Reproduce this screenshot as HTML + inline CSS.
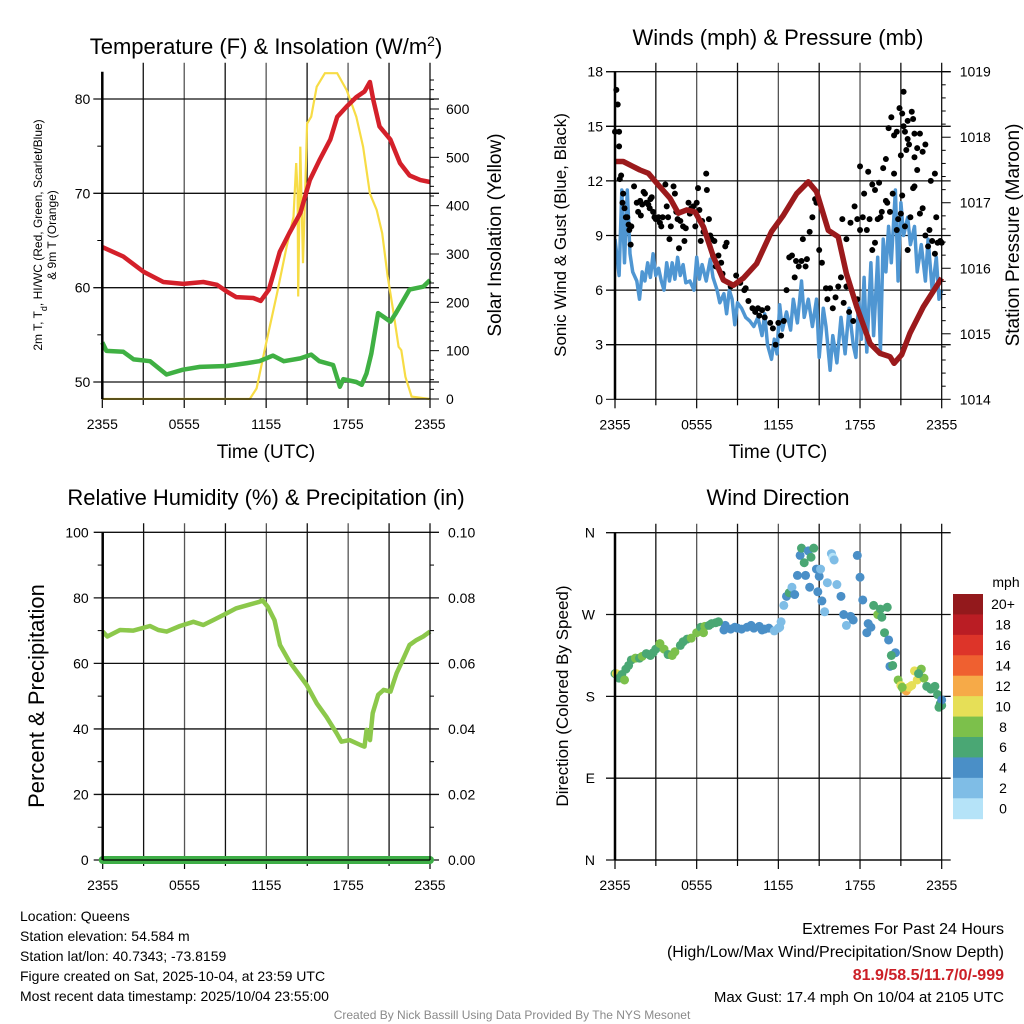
<!DOCTYPE html>
<html><head><meta charset="utf-8">
<style>
html,body{margin:0;padding:0;background:#fff;}
svg{display:block;font-family:"Liberation Sans",Arial,sans-serif;}
</style></head>
<body>
<svg id="root" width="1024" height="1024" viewBox="0 0 1024 1024"></svg>
<script>
// ---------- DATA ----------
const tempHours=[0,1.54,3.0,4.47,5.93,7.4,8.4,9.1,9.8,11.06,11.6,12.2,13.0,13.7,14.5,15.2,15.9,16.7,17.2,17.9,18.6,19.2,19.6,19.85,20.3,21.1,21.8,22.5,23.3,24];
const tempVals=[64.3,63.3,61.7,60.6,60.4,60.6,60.3,59.6,59.0,58.9,58.6,59.8,63.8,65.8,67.9,71.4,73.5,75.7,78.1,79.2,80.2,80.8,81.8,79.9,77.1,75.7,73.2,71.9,71.4,71.2];
const dewHours=[0,0.3,1.54,2.3,3.5,4.7,5.9,7.15,9.1,10.6,11.5,12.5,13.3,14.5,15.3,15.9,16.9,17.4,17.65,18.6,19.0,19.35,19.7,20.2,20.6,21.1,21.5,22.5,23.5,24];
const dewVals=[54.2,53.3,53.2,52.4,52.2,50.8,51.3,51.6,51.7,52.0,52.2,52.8,52.2,52.5,52.9,52.2,51.8,49.5,50.3,50.0,49.7,50.9,53.0,57.3,56.9,56.4,57.3,59.8,60.1,60.8];
const solarHours=[0,10.8,11.3,12.0,12.8,13.5,14.0,14.2,14.3,14.35,14.5,14.7,14.85,15.0,15.3,15.7,16.3,17.2,17.9,18.6,19.1,19.6,20.1,20.5,20.9,21.3,21.7,21.9,22.2,22.65,24];
const solarVals=[0,0,22,115,219,315,377,488,425,212,522,281,425,570,584,646,674,674,639,584,522,425,391,343,253,184,108,101,46,5,0];
const presHours=[0,0.6,1.35,1.84,2.45,3.06,4.04,4.65,5.27,5.88,6.5,7.22,7.96,8.7,9.43,10.4,11.5,12.37,13.35,14.2,14.8,15.67,16.4,17.0,17.76,18.74,19.47,20.2,20.5,21.06,21.67,22.65,24];
const presVals=[1017.63,1017.63,1017.55,1017.5,1017.45,1017.3,1017.07,1016.84,1016.89,1016.86,1016.63,1016.18,1015.82,1015.74,1015.85,1016.07,1016.56,1016.81,1017.14,1017.32,1017.17,1016.58,1016.48,1015.92,1015.41,1014.85,1014.70,1014.65,1014.55,1014.68,1015.01,1015.41,1015.85];
const windHours=[0,0.3,0.5,0.7,0.9,1.1,1.3,1.6,1.8,2.0,2.2,2.4,2.6,2.8,3.0,3.2,3.4,3.6,3.8,4.0,4.2,4.4,4.6,4.8,5.0,5.2,5.5,5.8,6.0,6.2,6.4,6.7,7.0,7.2,7.5,7.7,8.0,8.2,8.4,8.6,8.8,9.0,9.3,9.6,9.9,10.2,10.5,10.8,11.0,11.2,11.5,11.7,11.9,12.1,12.3,12.6,12.9,13.1,13.4,13.7,13.9,14.2,14.5,14.8,15.0,15.3,15.5,15.8,16.0,16.3,16.6,16.9,17.2,17.5,17.7,17.9,18.1,18.3,18.5,18.8,19.0,19.3,19.5,19.7,19.9,20.1,20.3,20.6,20.8,21.0,21.2,21.5,21.7,22.0,22.2,22.5,22.8,23.0,23.3,23.6,23.8,24];
const windVals=[8.8,6.8,11.5,7.5,11.5,8,7,6.5,5.5,7,6.5,7.5,6.7,8,6.8,7.2,6.5,6,7.5,6.5,7.5,6.6,7.8,6.8,7.4,6.4,6.5,6.0,7.8,6.6,7.4,6.5,7.7,6.7,6.0,5.3,5.8,4.7,6.0,5.5,4.1,5.3,5.0,4.5,4.3,4.0,4.5,3.5,4.7,3.0,2.2,3.3,2.5,5.2,3.8,4.8,3.8,5.5,4.2,6.5,4.5,5.5,4.0,5.5,2.3,5.0,4.0,1.6,3.5,2.0,4.5,2.5,5.0,3.0,2.3,5.5,3.3,6.7,2.6,7.5,3.5,7.8,2.6,8.8,7.0,9.5,7.5,11.5,6.5,10.8,9.0,10.0,8.5,9.5,7.0,8.5,6.5,8.8,6.0,7.8,5.5,6.0];
const gustHours=[0,0.1,0.2,0.3,0.3,0.35,0.45,0.55,0.6,0.7,0.8,0.9,1.0,1.05,1.15,1.2,1.4,1.6,1.7,1.85,1.9,2.0,2.1,2.2,2.3,2.45,2.55,2.6,2.7,2.8,2.9,3.0,3.2,3.3,3.4,3.5,3.7,3.8,3.9,4.0,4.1,4.3,4.4,4.5,4.6,4.7,4.8,5.0,5.1,5.2,5.4,5.5,5.6,5.75,5.9,6.0,6.1,6.2,6.3,6.4,6.5,6.7,6.75,6.9,7.0,7.1,7.2,7.3,7.4,7.6,7.8,7.9,8.1,8.2,8.5,8.9,9.2,9.5,9.6,9.8,10.1,10.3,10.5,10.6,10.8,11.0,11.2,11.4,11.6,11.8,12.0,12.2,12.4,12.6,12.8,13.0,13.2,13.3,13.5,13.7,13.8,14.0,14.1,14.3,14.5,14.7,14.8,15.0,15.2,15.5,15.6,15.8,16.0,16.2,16.4,16.6,16.8,17.0,17.2,17.5,17.8,18.0,18.2,18.5,18.7,18.9,19.1,19.3,19.5,19.7,19.9,20.0,20.2,20.4,20.5,20.7,20.8,21.0,21.1,21.3,21.5,21.7,21.9,22.0,22.2,22.4,22.6,22.8,23.0,23.1,23.3,23.5,23.7,23.9,24,20.1,20.3,20.5,20.7,20.9,21.1,21.0,21.2,21.4,21.5,21.6,21.8,21.9,22.0,22.2,22.4,22.6,22.8,21.2,21.5,21.3,22.0,23.2,23.5,23.6,16.7,17.0,17.3,17.6,17.8,18.0,18.3,18.6,18.9,19.1,19.4,19.6,19.9];
const gustVals=[14.7,17,16.2,14.7,13.9,12.1,12.3,10.8,11.3,10.5,10,10,9.6,9.3,8.5,9.5,11.7,10.8,10.3,10.9,10.1,10.7,11.4,11.3,10.8,10.7,10.5,11,11.1,10.3,10.0,9.9,10.0,9.7,9.5,10.0,11.8,10.6,10.0,8.8,9.5,11.7,11.3,10.3,9.9,8.3,9.8,9.5,8.7,9.4,10.8,10.2,10.5,10.6,9.5,10.8,11.6,10.4,8.7,9.8,9.2,12.4,11.5,9.9,9.0,8.8,7.9,8.7,7.3,7.9,7.5,6.9,8.4,8.6,6.2,6.8,6.4,6.0,6.1,5.4,5.0,4.8,5.0,4.6,4.9,4.5,5.0,4.2,3.9,3.0,4.2,3.5,4.3,6.0,7.8,7.9,6.7,7.6,7.3,7.6,8.8,7.3,7.7,9.2,10.0,11.0,10.8,8.2,7.5,6.1,5.5,6.1,5.0,5.6,6.2,6.7,5.3,6.2,4.8,4.3,5.5,9.3,10.0,9.3,9.9,8.2,8.6,9.9,10.0,12.7,13.2,10.8,10.3,11.3,12.4,9.3,9.9,10.2,11.2,9.5,8.2,10.0,11.6,11.7,12.6,10.2,10.5,9.0,8.4,9.3,8.7,8.0,8.6,8.7,8.6,14.9,15.5,14.5,14.7,16.0,15.7,13.4,15.0,13.7,14.3,14.0,15.8,15.4,14.6,13.8,14.6,13.6,14.0,16.9,15.3,14.7,13.3,12.0,12.4,10.0,9.9,8.8,9.7,10.6,9.9,12.8,11.3,12.5,11.8,11.5,11.9,10.3,10.9];
const rhHours=[0,0.34,1.27,2.25,3.47,4.08,4.69,5.67,6.65,7.38,8.1,9.1,9.8,10.8,11.5,11.7,12.1,12.6,13.0,13.7,14.96,15.7,16.4,17.15,17.5,18.1,18.9,19.2,19.35,19.6,19.8,20.2,20.6,21.1,21.55,22.0,22.5,23.0,23.5,24];
const rhVals=[69.7,68.2,70.2,70.0,71.4,70.2,69.7,71.4,72.7,71.7,73.2,75.3,76.8,78.0,78.8,79.3,77.3,73.2,65.6,60.5,53.4,47.8,43.7,38.7,36.1,36.6,35.1,34.6,39.7,36.6,44.8,50.4,51.9,51.4,57.0,61.0,65.6,67.1,68.2,69.7];
const precipHours=[0,6,12,18,24];
const precipVals=[0,0,0,0,0];
const dirHours=[0,0.1,0.2,0.3,0.5,0.7,0.8,1.2,1.5,1.8,2.0,2.3,2.6,3.0,3.3,3.6,3.9,4.2,4.4,5.0,5.3,5.6,6.0,6.3,6.6,6.9,7.1,7.4,8.0,8.1,8.5,8.8,9.3,9.7,10.2,10.6,10.8,11.3,11.7,12.0,12.2,12.4,12.6,12.8,13.0,13.2,13.4,13.6,13.7,13.9,14.0,14.2,14.4,14.6,14.8,14.9,15.0,15.2,15.4,15.6,15.9,16.0,16.3,16.6,16.8,17.0,17.3,17.5,17.8,18.0,18.2,18.5,18.8,19.0,19.3,19.6,19.8,20.0,20.1,20.2,20.4,20.6,20.3,20.8,21.0,21.2,21.4,21.6,21.8,22.0,22.2,22.5,22.7,22.9,23.2,23.5,23.7,23.9,24,24,23.8,1.0,2.8,4.8,6.5,7.6,9.0,10.0,11.0,12.1,14.3,15.1,16.1,18.6,19.5,21.1,22.3];
const dirVals=[205,205,204,200,204,198,210,220,222,222,224,227,225,232,238,232,226,225,229,240,243,244,250,256,257,258,260,261,253,258,254,256,254,256,255,257,253,255,252,255,262,280,290,294,300,292,313,335,343,327,313,340,333,343,320,295,312,285,273,305,337,333,303,290,270,258,268,264,335,311,286,250,256,280,270,267,250,278,242,213,214,228,225,198,192,188,186,190,192,208,198,210,200,191,188,191,182,172,170,176,168,214,228,236,250,262,255,258,254,256,300,320,330,260,276,190,205];
const dirSpeeds=[7,10,10,7,7,9,7,7,9,7,9,7,7,7,9,9,7,9,9,7,7,9,9,7,9,7,7,7,5,5,5,5,5,5,5,5,5,5,3,3,3,3,5,7,3,5,5,5,7,7,5,5,7,7,5,5,5,5,3,3,3,1,3,5,5,3,5,5,5,5,5,5,5,7,9,7,7,7,5,5,7,5,7,9,11,9,13,11,11,11,11,9,9,7,7,7,7,7,7,5,7,7,7,7,9,7,5,5,5,3,5,3,3,5,7,9,7];
const binLabels=["20+","18","16","14","12","10","8","6","4","2","0"];
const binColors=["#b5e3f8","#7fbde6","#4a8fc7","#4aa774","#7cc04b","#e6df57","#f6aa48","#ef6030","#dd3429","#ba1d24","#93191c"];
const timeLabels=["2355","0555","1155","1755","2355"];
const tempTicks=[50,60,70,80];
const solarTicks=[0,100,200,300,400,500,600];
const windTicks=[0,3,6,9,12,15,18];
const presTicks=[1014,1015,1016,1017,1018,1019];
const rhTicks=[0,20,40,60,80,100];
const precipTicks=["0.00","0.02","0.04","0.06","0.08","0.10"];
const dirTicks=[0,90,180,270,360];
const dirTickLabels=["N","E","S","W","N"];

// ---------- HELPERS ----------
const NS="http://www.w3.org/2000/svg";
const root=document.getElementById('root');
function mk(tag,attrs,name,parent){
  const el=document.createElementNS(NS,tag);
  for(const k in attrs)el.setAttribute(k,attrs[k]);
  
  
  (parent||root).appendChild(el);return el;
}
function txt(x,y,s,size,name,opts){
  opts=opts||{};
  const a={x:x,y:y,'font-size':size,fill:opts.fill||'#000','text-anchor':opts.anchor||'start'};
  if(opts.weight)a['font-weight']=opts.weight;
  if(opts.rot!==undefined)a.transform='rotate('+opts.rot+' '+x+' '+y+')';
  const t=mk('text',a,name,opts.parent);t.textContent=s;return t;
}
function lin(d0,d1,r0,r1){return v=>r0+(v-d0)/(d1-d0)*(r1-r0);}
function pathFrom(xs,ys,fx,fy){return xs.map((h,i)=>(i?'L':'M')+fx(h).toFixed(1)+' '+fy(ys[i]).toFixed(1)).join(' ');}
function clipRect(id,x,y,w,h,g){
  const cp=mk('clipPath',{id:id},'clip-path',g);
  mk('rect',{x:x,y:y,width:w,height:h},'clip-rect',cp);
}

function frame(P,name){
  const g=mk('g',{},name);
  for(let k=1;k<8;k++){const x=P.fx(k*3);
    mk('line',{x1:x,x2:x,y1:P.y0-9,y2:P.y1,stroke:k%2?'#111':'#555','stroke-width':1.3},'grid-line-v',g);}
  for(let k=0;k<=8;k++){const x=P.fx(k*3);
    mk('line',{x1:x,x2:x,y1:P.y1,y2:P.y1+(k%2?6:9),stroke:'#000','stroke-width':1.2},'x-tick',g);}
  timeLabels.forEach((s,i)=>txt(P.fx(i*6),P.y1+30,s,14,'x-tick-label',{anchor:'middle',parent:g}));
  return g;
}
function hgrid(P,g,y,len){
  mk('line',{x1:P.x0-9,x2:P.x1+(len||9),y1:y,y2:y,stroke:'#111','stroke-width':1.3},'grid-line-h',g);
}
function border(P,g){
  mk('line',{x1:P.x0,x2:P.x0,y1:P.y0,y2:P.y1,stroke:'#000','stroke-width':2.5},'y-axis-left',g);
  mk('line',{x1:P.x1,x2:P.x1,y1:P.y0-9,y2:P.y1,stroke:'#000','stroke-width':1.2},'y-axis-right',g);
  mk('line',{x1:P.x0,x2:P.x1,y1:P.y1,y2:P.y1,stroke:'#000','stroke-width':1.2},'x-axis',g);
}

// ---------- PANEL 1: Temperature ----------
{
const P={x0:102.3,x1:430,y0:71.7,y1:399};
P.fx=lin(0,24,P.x0,P.x1);
const fy=lin(50,80,382,99), fs=lin(0,600,399,109);
const g=frame(P,'temperature-panel');
tempTicks.forEach(v=>{hgrid(P,g,fy(v));txt(P.x0-12,fy(v)+5,String(v),14,'temp-tick-label',{anchor:'end',parent:g});});
[55,65,75].forEach(v=>mk('line',{x1:P.x0-5,x2:P.x0,y1:fy(v),y2:fy(v),stroke:'#000'},'temp-minor-tick',g));
for(let v=0;v<=660;v+=20){const y=fs(v);if(y<P.y0)break;mk('line',{x1:P.x1,x2:P.x1+(v%100?4:9),y1:y,y2:y,stroke:'#000','stroke-width':1},'solar-tick',g);}
solarTicks.forEach(v=>txt(P.x1+16,fs(v)+5,String(v),14,'solar-tick-label',{parent:g}));
clipRect('c1',P.x0,P.y0-1,P.x1-P.x0,P.y1-P.y0+2,g);
mk('path',{d:pathFrom(solarHours,solarVals,P.fx,fs),fill:'none',stroke:'#f7dc45','stroke-width':2.2,'clip-path':'url(#c1)'},'solar-insolation-line',g);
mk('path',{d:pathFrom(tempHours,tempVals,P.fx,fy),fill:'none',stroke:'#d4202a','stroke-width':4.5,'stroke-linejoin':'round'},'temperature-line',g);
mk('path',{d:pathFrom(dewHours,dewVals,P.fx,fy),fill:'none',stroke:'#3fb043','stroke-width':4.5,'stroke-linejoin':'round'},'dewpoint-line',g);
border(P,g);
const t=txt(266,54,'Temperature (F) & Insolation (W/m',22,'temperature-title',{anchor:'middle',parent:g});
const sp=document.createElementNS(NS,'tspan');sp.setAttribute('baseline-shift','super');sp.setAttribute('font-size','14');sp.textContent='2';t.appendChild(sp);
const sp2=document.createElementNS(NS,'tspan');sp2.textContent=')';t.appendChild(sp2);
txt(266,458,'Time (UTC)',19,'x-axis-title',{anchor:'middle',parent:g});
const yl=txt(42,235,'2m T, T',12,'temp-y-axis-title',{anchor:'middle',rot:-90,parent:g});
const sub=document.createElementNS(NS,'tspan');sub.setAttribute('baseline-shift','sub');sub.setAttribute('font-size','9');sub.textContent='d';yl.appendChild(sub);
const rest=document.createElementNS(NS,'tspan');rest.textContent=', HI/WC (Red, Green, Scarlet/Blue)';yl.appendChild(rest);
txt(56,235,'& 9m T (Orange)',12,'temp-y-axis-title-2',{anchor:'middle',rot:-90,parent:g});
txt(501,235,'Solar Insolation (Yellow)',19,'solar-y-axis-title',{anchor:'middle',rot:-90,parent:g});
}

// ---------- PANEL 2: Winds ----------
{
const P={x0:615,x1:941.7,y0:71.7,y1:399.3};
P.fx=lin(0,24,P.x0,P.x1);
const fy=lin(0,18,P.y1,P.y0), fp=lin(1014,1019,P.y1,P.y0);
const g=frame(P,'winds-panel');
windTicks.forEach(v=>{if(v>0&&v<18)hgrid(P,g,fy(v));mk('line',{x1:P.x0-9,x2:P.x0,y1:fy(v),y2:fy(v),stroke:'#000'},'wind-tick',g);txt(P.x0-12,fy(v)+5,String(v),14,'wind-tick-label',{anchor:'end',parent:g});});
mk('line',{x1:P.x0-9,x2:P.x1+9,y1:P.y0,y2:P.y0,stroke:'#111','stroke-width':1.3},'top-line',g);
for(let v=1014;v<=1019.001;v+=0.2){const y=fp(v);mk('line',{x1:P.x1,x2:P.x1+(Math.abs(v-Math.round(v))<0.01?9:4),y1:y,y2:y,stroke:'#000'},'pressure-tick',g);}
presTicks.forEach(v=>txt(P.x1+18,fp(v)+5,String(v),14,'pressure-tick-label',{parent:g}));
clipRect('c2',P.x0,P.y0,P.x1-P.x0+3,P.y1-P.y0,g);
mk('path',{d:pathFrom(windHours,windVals,P.fx,fy),fill:'none',stroke:'#4f96d2','stroke-width':3.5,'stroke-linejoin':'round','clip-path':'url(#c2)'},'sonic-wind-line',g);
gustHours.forEach((h,i)=>{
  mk('circle',{cx:P.fx(h),cy:fy(gustVals[i]),r:3,fill:'#000'},'gust-point',g);
});
mk('path',{d:pathFrom(presHours,presVals,P.fx,fp),fill:'none',stroke:'#9b1a1c','stroke-width':5.5,'stroke-linejoin':'round','clip-path':'url(#c2)'},'pressure-line',g);
border(P,g);
txt(778,45,'Winds (mph) & Pressure (mb)',22,'winds-title',{anchor:'middle',parent:g});
txt(778,458,'Time (UTC)',19,'x-axis-title',{anchor:'middle',parent:g});
txt(566,235,'Sonic Wind & Gust (Blue, Black)',17,'wind-y-axis-title',{anchor:'middle',rot:-90,parent:g});
txt(1019,235,'Station Pressure (Maroon)',19,'pressure-y-axis-title',{anchor:'middle',rot:-90,parent:g});
}

// ---------- PANEL 3: RH ----------
{
const P={x0:102.7,x1:430,y0:532.3,y1:860};
P.fx=lin(0,24,P.x0,P.x1);
const fy=lin(0,100,P.y1,P.y0), fpr=lin(0,0.1,P.y1,P.y0);
const g=frame(P,'humidity-panel');
rhTicks.forEach(v=>{hgrid(P,g,fy(v));txt(P.x0-14,fy(v)+5,String(v),14,'rh-tick-label',{anchor:'end',parent:g});});
for(let v=10;v<100;v+=20){mk('line',{x1:P.x0-5,x2:P.x0,y1:fy(v),y2:fy(v),stroke:'#000'},'rh-minor-tick',g);mk('line',{x1:P.x1,x2:P.x1+4,y1:fy(v),y2:fy(v),stroke:'#000'},'precip-minor-tick',g);}
precipTicks.forEach((s,i)=>txt(P.x1+18,fy(i*20)+5,s,14,'precip-tick-label',{parent:g}));
mk('path',{d:pathFrom(rhHours,rhVals,P.fx,fy),fill:'none',stroke:'#8cc84b','stroke-width':4.5,'stroke-linejoin':'round'},'rh-line',g);
mk('path',{d:pathFrom(precipHours,precipVals,P.fx,fpr),fill:'none',stroke:'#3eae47','stroke-width':8,'stroke-linecap':'round'},'precip-line',g);
border(P,g);
txt(266,505,'Relative Humidity (%) & Precipitation (in)',22,'humidity-title',{anchor:'middle',parent:g});
txt(44,696,'Percent & Precipitation',22,'rh-y-axis-title',{anchor:'middle',rot:-90,parent:g});
}

// ---------- PANEL 4: Wind direction ----------
{
const P={x0:615,x1:941.7,y0:532.7,y1:860};
P.fx=lin(0,24,P.x0,P.x1);
const fy=lin(0,360,P.y1,P.y0);
const g=frame(P,'wind-direction-panel');
dirTicks.forEach((v,i)=>{hgrid(P,g,fy(v));txt(P.x0-20,fy(v)+5,dirTickLabels[i],14,'direction-tick-label',{anchor:'end',parent:g});});
dirHours.forEach((h,i)=>{
  const idx=Math.min(10,Math.floor(dirSpeeds[i]/2));
  mk('circle',{cx:P.fx(h),cy:fy(dirVals[i]),r:4.5,fill:binColors[idx]},'direction-point',g);
});
border(P,g);
txt(778,505,'Wind Direction',22,'wind-direction-title',{anchor:'middle',parent:g});
txt(568,696,'Direction (Colored By Speed)',17,'direction-y-axis-title',{anchor:'middle',rot:-90,parent:g});
const cb=mk('g',{},'speed-colorbar',g);
const bh=(818.7-594)/11;
binLabels.forEach((s,i)=>{
  mk('rect',{x:953,y:594+i*bh,width:30,height:bh+0.5,fill:binColors[10-i]},'colorbar-bin',cb);
  txt(1003,594+i*bh+bh/2+5,s,14,'colorbar-label',{anchor:'middle',parent:cb});
});
txt(1006,587,'mph',14,'colorbar-title',{anchor:'middle',parent:cb});
}

// ---------- TEXT ----------
const info=["Location: Queens","Station elevation: 54.584 m","Station lat/lon: 40.7343; -73.8159","Figure created on Sat, 2025-10-04, at 23:59 UTC","Most recent data timestamp: 2025/10/04 23:55:00"];
info.forEach((s,i)=>txt(20,921+i*20,s,14,'station-info-line'));
txt(1004,934,'Extremes For Past 24 Hours',16,'extremes-title',{anchor:'end'});
txt(1004,957,'(High/Low/Max Wind/Precipitation/Snow Depth)',16,'extremes-subtitle',{anchor:'end'});
txt(1004,980,'81.9/58.5/11.7/0/-999',16,'extremes-values',{anchor:'end',fill:'#cc2027',weight:'bold'});
txt(1004,1002,'Max Gust: 17.4 mph On 10/04 at 2105 UTC',15,'max-gust',{anchor:'end'});
txt(512,1019,'Created By Nick Bassill Using Data Provided By The NYS Mesonet',12,'credit-footer',{anchor:'middle',fill:'#8a8a8a'});
</script>
</body></html>
